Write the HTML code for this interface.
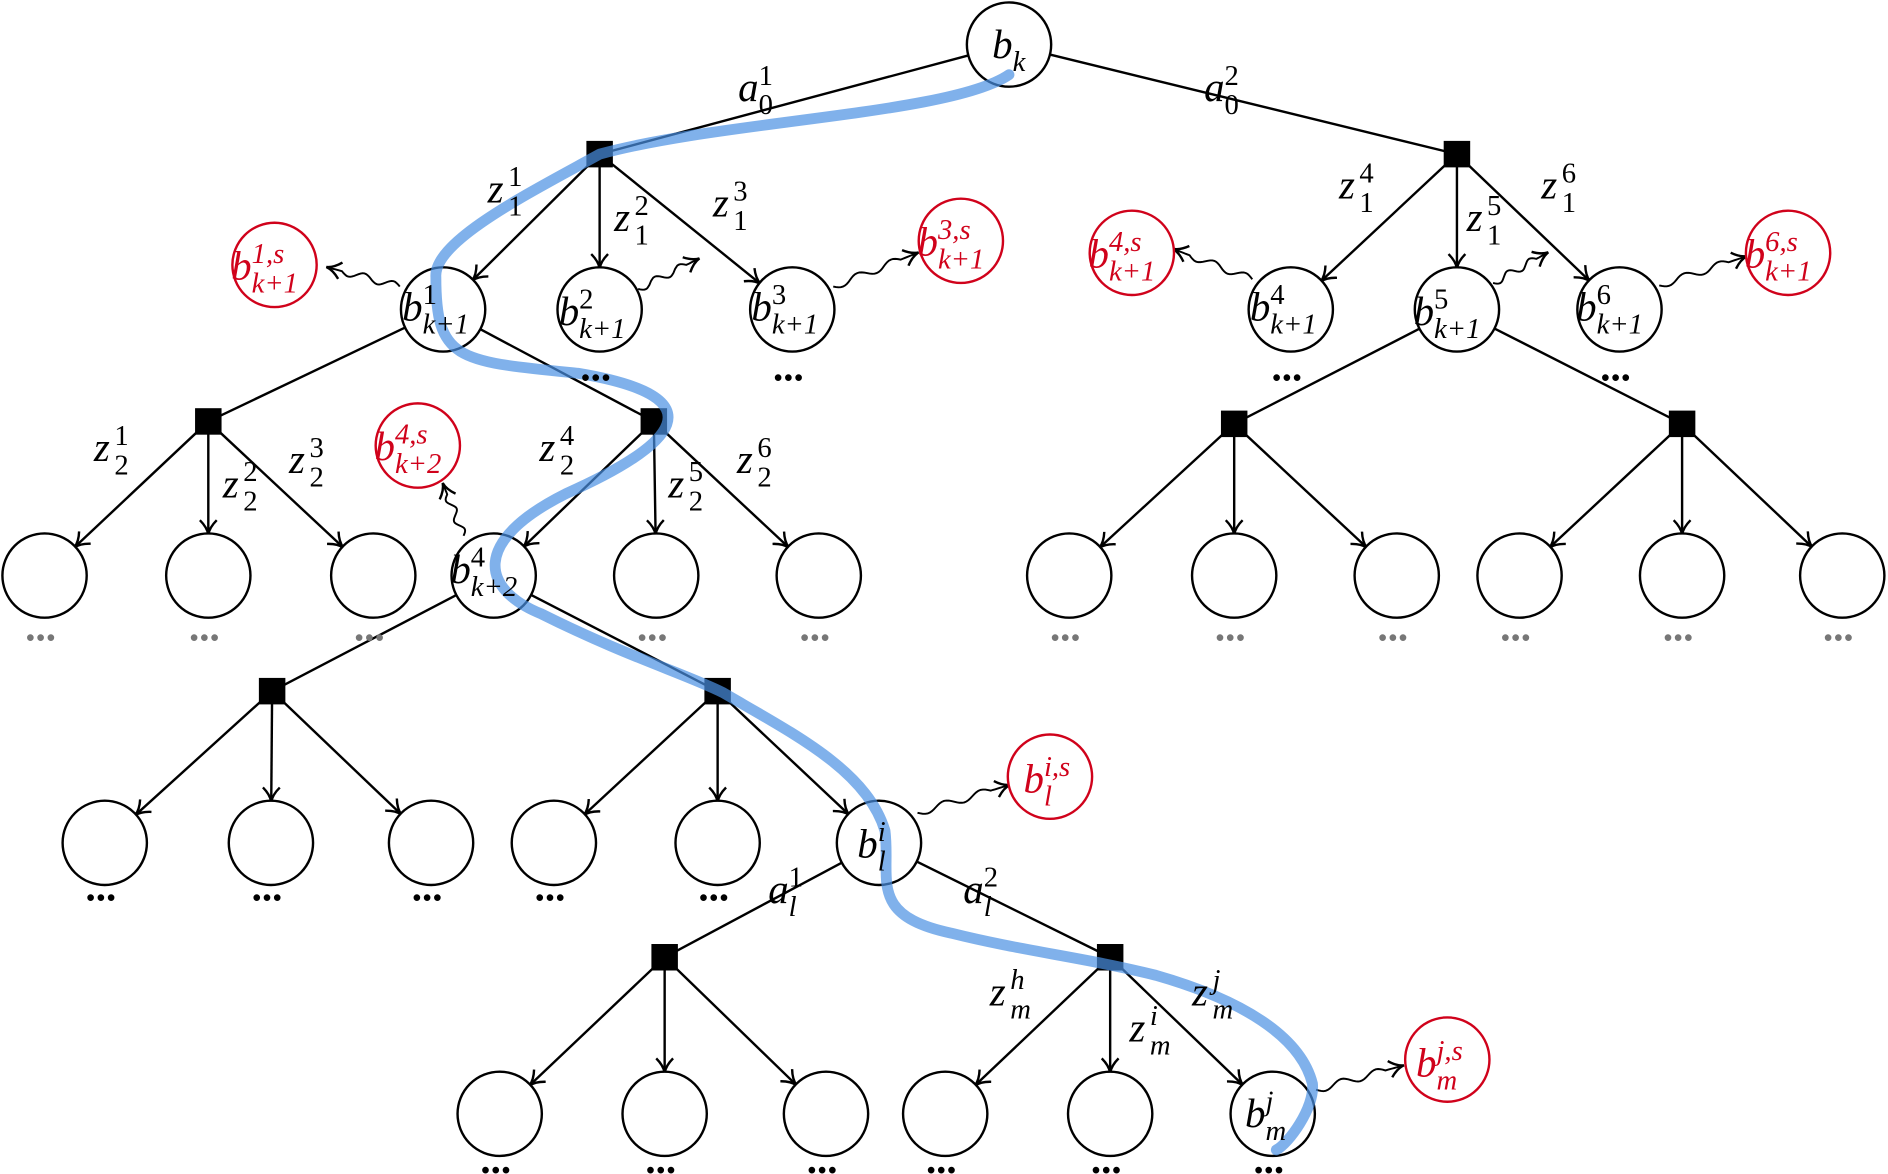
<!DOCTYPE html>
<html><head><meta charset="utf-8"><style>
html,body{margin:0;padding:0;background:#fff;}
svg{display:block}
text{font-family:"Liberation Serif",serif;}
</style></head><body>
<svg id="s" width="1888" height="1174" viewBox="0 0 1568 975" xmlns="http://www.w3.org/2000/svg">
<defs>
<marker id="ar" markerWidth="16" markerHeight="16" refX="13" refY="8" orient="auto" markerUnits="userSpaceOnUse">
<path d="M2,1 Q8,7 14,8 Q8,9 2,15" fill="none" stroke="#000" stroke-width="2"/>
</marker>
</defs>
<g id="edges" stroke="#000" stroke-width="2" fill="none"></g>
<g id="nodes"></g>
<path d="M838,62 C790,95 600,100 498,128 C440,160 360,200 362,230 C362,300 380,300 480,310 C600,330 560,370 470,410 C390,450 400,490 450,510 C520,545 570,560 600,575 C660,610 720,640 735,690 C740,730 720,760 790,775 C850,790 900,795 960,810 C1030,830 1080,860 1090,900 C1092,920 1070,950 1060,955" fill="none" stroke="#4a90e2" stroke-opacity="0.7" stroke-width="9" stroke-linecap="round"/>
<g id="labels"></g>
</svg>
<script>
const NS="http://www.w3.org/2000/svg";
const E=document.getElementById('edges'),N=document.getElementById('nodes'),L=document.getElementById('labels');
function el(p,t,a,txt){const e=document.createElementNS(NS,t);for(const k in a)e.setAttribute(k,a[k]);if(txt!=null)e.textContent=txt;p.appendChild(e);return e;}
const R=35;
function circ(x,y,c){el(N,'circle',{cx:x,cy:y,r:R,fill:'#fff',stroke:c||'#000','stroke-width':2});}
function sq(x,y){el(N,'rect',{x:x-11,y:y-11,width:22,height:22,fill:'#000'});}
function line(x1,y1,x2,y2,arrow){el(E,'line',Object.assign({x1,y1,x2,y2},arrow?{'marker-end':'url(#ar)'}:{}));}
function toCircle(sx,sy,cx,cy){const dx=sx-cx,dy=sy-cy,d=Math.hypot(dx,dy);return [cx+dx/d*R,cy+dy/d*R];}
function fam(sx,sy,kids,cy){for(const k of kids){const p=toCircle(sx,sy,k,cy);line(sx,sy,p[0],p[1],true);circ(k,cy);}}
function par(cx,cy,sqs){for(const s of sqs){const p=toCircle(s[0],s[1],cx,cy);line(p[0],p[1],s[0],s[1]);}}
function fst(s){return 'font-style:'+(/^[0-9]+$/.test(s)?'normal':'italic');}
function lab(x,y,b,sup,sub,c,fs){fs=fs||34;c=c||'#000';el(L,'text',{x,y,'font-size':fs,fill:c,style:'font-style:italic'},b);const w=fs*0.5;
 if(sup)el(L,'text',{x:x+w,y:y-fs*0.4,'font-size':fs*0.7,fill:c,style:fst(sup)},sup);
 if(sub)el(L,'text',{x:x+w,y:y+fs*0.32,'font-size':fs*0.7,fill:c,style:fst(sub)},sub);}
function dots(x,y,c){el(L,'text',{x:x-16,y,'font-size':34,'font-weight':'bold',fill:c||'#000'},'...');}
function wig(x1,y1,x2,y2){const dx=x2-x1,dy=y2-y1,d=Math.hypot(dx,dy),ux=dx/d,uy=dy/d;let p='M'+x1+','+y1;const n=40;
 for(let i=1;i<=n;i++){const t=i/n,a=Math.sin(t*Math.PI*5)*3*(t<0.8?1:0);p+=' L'+(x1+dx*t-uy*a).toFixed(1)+','+(y1+dy*t+ux*a).toFixed(1);}
 el(E,'path',{d:p,'stroke-width':1.6,'marker-end':'url(#ar)'});}
par(838,37,[[498,128],[1210,128]]);
circ(838,37);
fam(498,128,[368,498,658],257);fam(1210,128,[1072,1210,1345],257);
sq(498,128);sq(1210,128);
par(368,257,[[173,350],[543,350]]);par(1210,257,[[1025,352],[1397,352]]);
fam(173,350,[37,173,310],478);fam(543,350,[410,545,680],478);
fam(1025,352,[888,1025,1160],478);fam(1397,352,[1262,1397,1530],478);
[[173,350],[543,350],[1025,352],[1397,352]].forEach(s=>sq(s[0],s[1]));
par(410,478,[[226,574],[596,574]]);
fam(226,574,[87,225,358],700);fam(596,574,[460,596,730],700);
sq(226,574);sq(596,574);
par(730,700,[[552,795],[922,795]]);
fam(552,795,[415,552,686],925);fam(922,795,[785,922,1057],925);
sq(552,795);sq(922,795);
[[228,220],[798,200],[940,210],[1485,210],[347,370],[872,645],[1202,880]].forEach(p=>circ(p[0],p[1],'#d0021b'));
wig(332,238,272,222);wig(530,240,580,215);wig(692,238,762,210);wig(1040,232,975,207);
wig(1240,235,1285,210);wig(1378,237,1450,213);wig(385,445,368,402);wig(762,675,838,652);wig(1093,905,1165,885);
[498,658,1072,1345].forEach(x=>dots(x,316));
[37,173,310,545,680,888,1025,1160,1262,1397,1530].forEach(x=>dots(x,532,'#777'));
[87,225,358,460,596].forEach(x=>dots(x,748));
[415,552,686,785,922,1057].forEach(x=>dots(x,974));
lab(824,48,'b',null,'k');
lab(334,266,'b','1','k+1');lab(464,270,'b','2','k+1');lab(624,266,'b','3','k+1');
lab(1038,266,'b','4','k+1');lab(1174,270,'b','5','k+1');lab(1309,266,'b','6','k+1');
lab(374,484,'b','4','k+2');lab(712,712,'b','i','l');lab(1034,936,'b','j','m');
const red='#d0021b';
lab(192,232,'b','1,s','k+1',red);lab(762,212,'b','3,s','k+1',red);lab(904,222,'b','4,s','k+1',red);
lab(1449,222,'b','6,s','k+1',red);lab(311,382,'b','4,s','k+2',red);lab(850,658,'b','i,s','l',red);lab(1176,894,'b','j,s','m',red);
lab(613,84,'a','1','0');lab(1000,84,'a','2','0');
lab(405,168,'z','1','1');lab(510,192,'z','2','1');lab(592,180,'z','3','1');
lab(1112,165,'z','4','1');lab(1218,192,'z','5','1');lab(1280,165,'z','6','1');
lab(78,383,'z','1','2');lab(185,413,'z','2','2');lab(240,393,'z','3','2');
lab(448,383,'z','4','2');lab(555,413,'z','5','2');lab(612,393,'z','6','2');
lab(638,750,'a','1','l');lab(800,750,'a','2','l');
lab(822,835,'z','h','m');lab(938,865,'z','i','m');lab(990,835,'z','j','m');
</script>
</body></html>
